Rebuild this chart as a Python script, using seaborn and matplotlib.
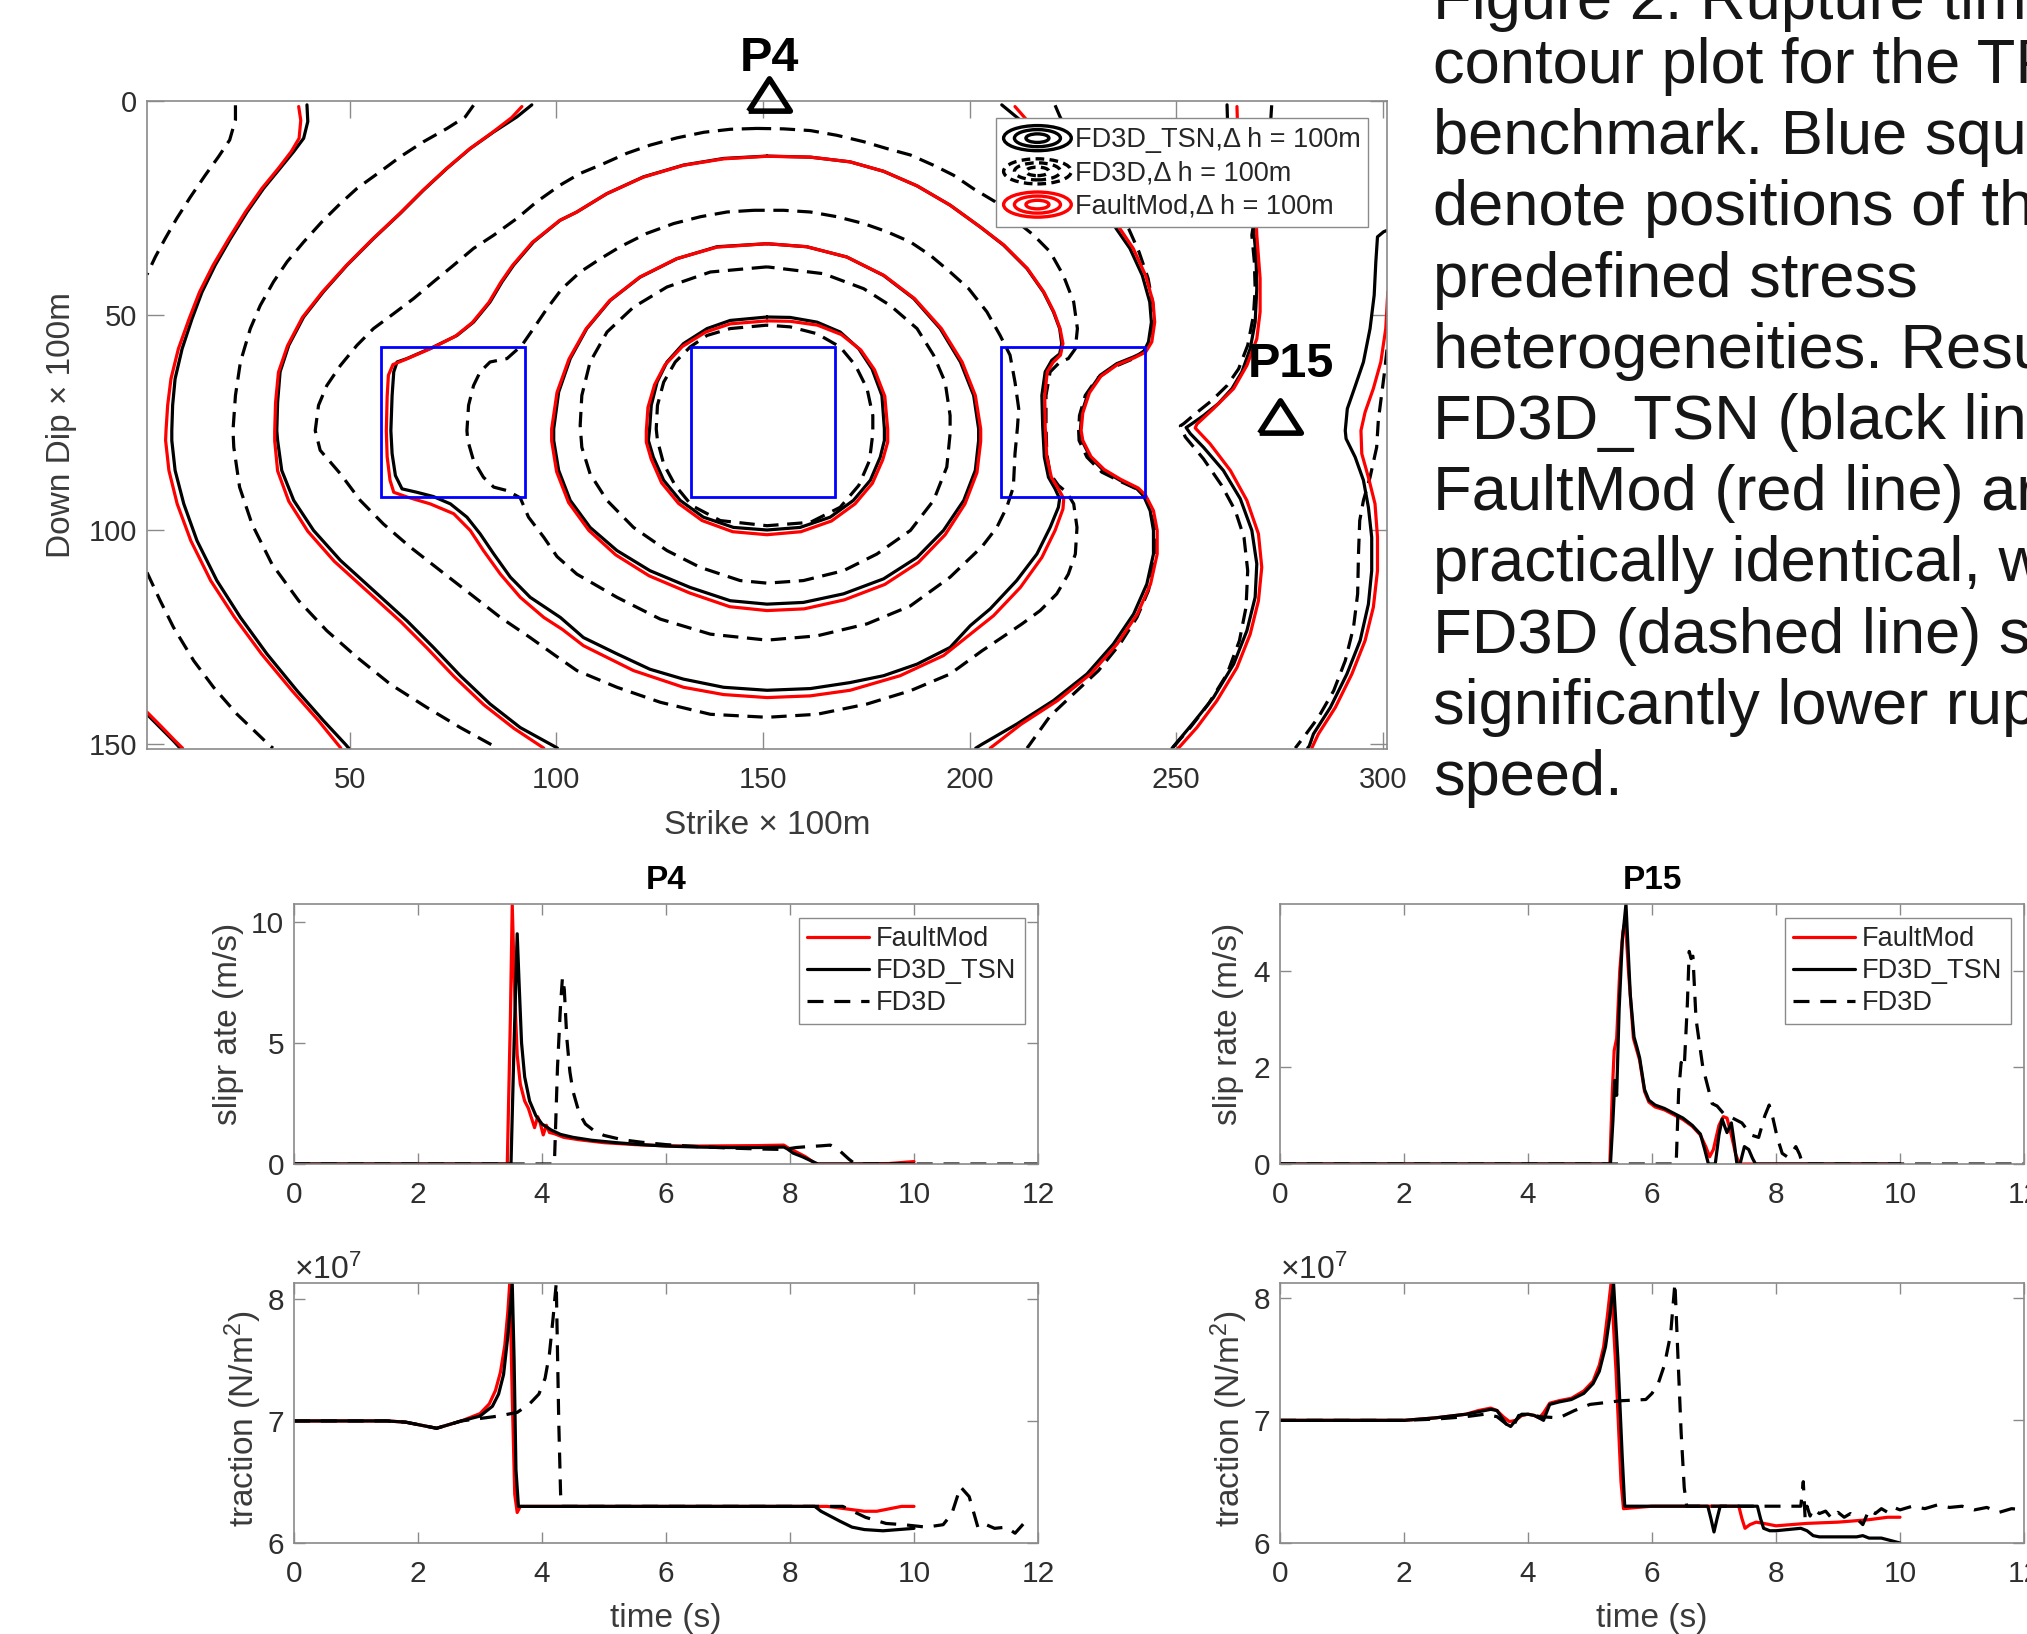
import matplotlib
matplotlib.use("Agg")
import numpy as np
import pandas as pd
import matplotlib.pyplot as plt
import seaborn as sns
from matplotlib.patches import Ellipse, Rectangle
from matplotlib.legend_handler import HandlerBase
from matplotlib.lines import Line2D
from matplotlib.ticker import ScalarFormatter

# ------------------------------------------------------------------ data
# Rupture-time contours, (strike, dip) in units of 100 m
tsn_c1 = [(151.0,50.4),(142.1,51.2),(136.5,53.1),(130.8,56.6),(126.8,60.9),(124.4,65.6),(123.0,71.0),(122.6,76.5),(122.3,79.2),(123.5,83.1),(126.0,88.5),(130.0,93.2),(135.6,97.1),(142.9,99.5),(151.0,100.1),(159.0,99.5),(166.3,97.1),(171.9,93.2),(176.0,88.5),(178.4,83.1),(179.4,79.2),(179.4,76.5),(178.8,68.7),(176.4,62.5),(173.2,57.8),(168.7,53.9),(163.1,51.6),(156.6,50.5),(151.0,50.4)]
tsn_c2 = [(151.0,33.3),(138.9,34.0),(129.2,36.8),(120.3,41.1),(113.1,46.5),(107.4,53.1),(103.4,60.1),(100.6,67.9),(99.4,76.5),(99.4,79.2),(100.6,86.2),(103.4,93.2),(108.2,99.5),(114.7,104.9),(122.7,109.6),(132.4,113.5),(142.1,116.6),(151.0,117.4),(159.8,117.0),(169.5,115.0),(179.2,111.5),(187.3,106.5),(193.7,100.2),(198.6,93.2),(201.4,86.2),(202.2,79.2),(202.2,76.5),(201.0,68.7),(197.8,60.9),(192.9,53.1),(186.5,46.1),(179.2,40.7),(170.3,36.4),(160.6,34.0),(151.0,33.3)]
tsn_c3 = [(151.0,12.85),(140.5,13.4),(130.8,14.95),(121.1,17.7),(112.3,21.6),(105.0,25.9),(101.0,27.8),(94.5,32.9),(89.7,38.3),(86.9,42.2),(84.0,46.9),(80.0,51.6),(76.0,54.7),(70.3,57.4),(63.9,60.1),(61.5,60.9),(60.7,63.2),(60.3,68.7),(60.0,76.9),(60.3,82.3),(61.1,87.4),(62.7,90.5),(66.3,91.3),(70.3,92.3),(74.4,94.0),(78.4,97.1),(81.6,101.0),(84.9,105.7),(88.9,111.1),(93.7,115.8),(101.0,120.5),(106.6,125.2),(114.7,129.0),(122.7,132.6),(130.8,134.9),(140.5,136.8),(151.0,137.5),(161.5,137.1),(171.1,135.7),(179.2,134.1),(187.3,131.4),(195.3,127.5),(200.2,122.4),(205.0,118.5),(211.4,111.9),(216.3,105.7),(219.5,99.5),(221.5,94.8),(221.8,92.8),(220.7,90.5),(219.1,87.8),(218.1,83.1),(217.7,76.0),(217.5,68.7),(218.3,63.2),(219.9,60.5),(221.8,59.0),(222.3,56.6),(221.8,53.1),(220.3,49.2),(217.9,44.6),(213.9,39.1),(208.2,33.6),(202.6,29.4),(195.3,24.3),(187.3,19.8),(179.2,16.4),(171.1,14.2),(161.5,13.1),(151.0,12.85)]
tsn_c4l = [(94.1,0.9),(90.5,3.7),(84.9,7.2),(79.2,11.1),(73.6,15.7),(67.9,20.8),(62.3,26.2),(55.8,32.1),(49.4,38.3),(43.7,44.5),(38.9,50.4),(35.3,57.0),(33.2,63.2),(32.6,70.3),(32.4,76.9),(32.6,79.2),(33.6,86.2),(36.5,93.2),(41.3,100.2),(47.8,107.2),(55.8,114.2),(63.9,121.3),(70.3,127.5),(76.8,134.1),(84.0,140.7),(91.3,146.2),(99.4,150.5),(100.3,151.0)]
tsn_c4r = [(207.8,0.9),(212.2,4.4),(217.5,9.0),(223.0,14.5),(228.5,20.0),(232.5,25.0),(235.5,29.8),(238.8,34.4),(241.8,40.7),(243.6,46.9),(244.0,51.6),(243.3,56.2),(242.1,58.6),(239.7,59.7),(235.6,61.3),(231.6,64.0),(228.8,67.9),(227.2,72.6),(226.8,76.9),(227.2,79.2),(229.2,83.1),(232.4,86.2),(236.4,88.5),(240.5,90.5),(242.1,92.1),(243.7,95.6),(244.5,100.2),(244.5,105.7),(242.9,112.7),(239.7,119.7),(234.8,126.7),(228.4,133.7),(220.3,139.9),(211.4,145.4),(203.0,150.1),(201.5,151.0)]
tsn_c5l = [(39.7,0.9),(39.9,4.8),(38.9,8.7),(36.5,11.8),(33.2,15.7),(29.2,20.4),(25.2,25.9),(21.2,32.1),(17.5,38.3),(14.3,44.6),(11.9,50.8),(9.5,57.8),(7.8,64.8),(7.2,71.0),(7.0,76.9),(7.0,79.2),(7.8,86.2),(9.9,94.0),(13.1,102.6),(17.9,111.9),(23.6,120.5),(30.0,129.0),(37.3,137.6),(43.7,144.6),(49.0,150.1),(49.8,151.0)]
tsn_c5r = [(262.3,0.9),(262.4,4.1),(264.0,10.0),(266.0,17.0),(267.8,24.0),(268.7,29.8),(269.3,36.0),(269.5,43.8),(269.1,51.6),(267.9,57.8),(265.9,63.2),(263.5,67.1),(260.2,70.6),(256.6,73.4),(253.8,75.3),(252.4,76.2),(253.4,77.6),(256.6,80.8),(261.4,86.2),(265.5,92.8),(268.3,100.2),(269.5,108.0),(269.1,115.8),(267.1,123.6),(263.9,131.4),(259.0,139.2),(254.2,145.0),(249.8,150.1),(249.0,151.0)]
tsn_c6 = [(301.0,30.2),(300.2,30.5),(298.7,31.7),(298.3,37.5),(297.9,45.3),(296.9,53.1),(295.3,60.9),(293.1,67.1),(291.4,71.8),(290.9,76.9),(291.1,78.8),(293.3,83.1),(295.3,88.5),(296.5,94.8),(297.3,101.8),(297.3,109.6),(296.5,117.4),(294.5,125.9),(291.3,133.7),(287.3,141.5),(283.2,147.7),(282.2,150.5),(281.8,151.0)]
tsn_c7 = [(1.0,143.1),(4.2,146.2),(7.4,149.3),(9.0,151.0)]

fm_c1 = [(151.0,51.3),(142.1,52.0),(136.2,53.9),(130.5,57.3),(126.3,61.6),(123.8,66.2),(122.2,71.5),(121.8,77.0),(121.8,79.6),(123.0,83.6),(125.5,89.1),(129.6,93.9),(135.3,97.9),(142.7,100.5),(151.0,101.2),(159.2,100.5),(166.6,98.0),(172.3,94.0),(176.5,89.2),(179.0,83.7),(180.2,79.6),(180.2,76.6),(179.5,68.9),(177.0,62.7),(173.7,58.1),(169.0,54.5),(163.2,52.3),(156.6,51.4),(151.0,51.3)]
fm_c2 = [(151.0,33.3),(138.9,34.1),(129.1,36.8),(120.2,41.1),(112.9,46.6),(107.2,53.2),(103.1,60.2),(100.2,68.0),(98.9,76.5),(98.9,79.3),(100.1,86.5),(103.0,93.7),(107.9,100.2),(114.4,105.9),(122.5,110.8),(132.3,114.8),(142.0,118.0),(151.0,118.9),(160.0,118.5),(169.7,116.4),(179.5,112.8),(187.6,107.7),(194.1,101.2),(198.9,94.0),(201.8,86.7),(202.7,79.4),(202.7,76.5),(201.4,68.7),(198.2,60.9),(193.2,53.1),(186.7,46.1),(179.3,40.7),(170.3,36.4),(160.6,34.0),(151.0,33.3)]
fm_c3 = [(151.0,12.9),(140.5,13.5),(130.8,15.0),(121.0,17.8),(112.1,21.7),(104.8,26.0),(100.8,27.9),(94.2,33.0),(89.4,38.4),(86.6,42.3),(83.7,47.0),(79.7,51.7),(75.6,54.9),(69.8,57.7),(63.3,60.4),(60.5,61.5),(59.4,64.0),(59.1,69.0),(58.9,77.0),(59.1,83.0),(59.8,88.5),(60.7,91.3),(63.9,92.4),(69.5,94.0),(75.2,96.3),(79.2,100.2),(82.4,104.9),(86.5,110.4),(91.3,115.8),(97.0,120.5),(101.5,123.3),(106.6,127.1),(118.7,132.9),(130.8,136.8),(140.5,138.5),(151.0,139.2),(161.5,138.8),(171.1,137.5),(183.2,134.1),(193.7,129.4),(200.2,124.4),(205.8,120.1),(212.3,113.5),(217.5,106.5),(220.7,100.2),(222.6,95.2),(222.8,92.8),(221.5,90.5),(219.8,87.8),(218.7,83.1),(218.3,76.0),(218.2,68.7),(218.8,63.2),(220.2,61.0),(222.0,59.3),(222.6,56.6),(221.9,53.1),(220.4,49.2),(218.0,44.6),(214.0,39.1),(208.3,33.6),(202.6,29.4),(195.3,24.3),(187.3,19.8),(179.2,16.4),(171.1,14.2),(161.5,13.1),(151.0,12.9)]
fm_c4l = [(91.7,1.3),(89.2,3.9),(84.6,7.3),(79.0,11.2),(73.4,15.8),(67.7,20.9),(62.1,26.3),(55.6,32.2),(49.2,38.4),(43.4,44.6),(38.6,50.5),(35.0,57.1),(32.8,63.3),(32.1,70.4),(31.9,77.0),(31.9,79.3),(32.6,86.3),(35.3,93.4),(39.9,100.4),(46.3,107.4),(54.3,114.4),(62.4,121.5),(68.8,127.7),(75.3,134.3),(82.5,140.9),(89.8,146.4),(97.0,151.0)]
fm_c4r = [(211.0,1.3),(214.0,4.6),(218.5,9.0),(224.0,14.5),(229.5,20.0),(233.5,25.0),(236.4,29.8),(239.6,34.4),(242.6,40.7),(244.4,46.9),(244.8,51.6),(244.1,56.2),(242.6,58.6),(239.9,59.9),(235.8,61.5),(231.8,64.2),(229.0,68.1),(227.4,72.8),(227.0,76.9),(227.4,79.2),(229.4,83.0),(232.6,86.0),(236.6,88.3),(240.8,90.3),(242.6,92.0),(244.5,95.6),(245.4,100.2),(245.4,105.7),(243.8,112.7),(240.6,119.7),(235.7,126.7),(229.3,133.7),(221.3,139.9),(212.5,145.4),(205.0,151.0)]
fm_c5l = [(37.7,1.3),(38.2,4.5),(37.8,8.7),(35.9,11.8),(32.8,15.7),(28.8,20.4),(24.8,25.9),(20.8,32.1),(17.0,38.3),(13.7,44.6),(11.2,50.8),(8.6,57.8),(6.8,64.8),(6.0,71.0),(5.6,76.9),(5.5,79.2),(6.3,86.2),(8.3,94.0),(11.6,102.6),(16.4,111.9),(22.2,120.5),(28.7,129.0),(36.1,137.6),(42.5,144.6),(47.9,151.0)]
fm_c5r = [(264.7,1.3),(264.8,4.4),(266.2,10.0),(268.0,17.0),(269.2,24.0),(269.5,31.3),(270.3,41.4),(270.3,49.2),(269.5,55.5),(267.1,61.7),(263.9,67.1),(259.0,71.8),(255.0,75.4),(254.6,76.3),(258.2,80.0),(263.1,86.2),(267.1,93.2),(269.9,101.0),(270.7,108.8),(269.9,116.6),(267.9,124.4),(264.7,132.2),(259.8,140.0),(255.0,146.2),(251.0,150.5),(250.5,151.0)]
fm_c6 = [(301.2,44.5),(300.7,53.1),(299.5,60.9),(297.7,67.1),(295.7,72.6),(294.7,76.9),(294.9,82.3),(296.5,87.8),(298.1,94.0),(298.7,101.8),(298.7,109.6),(297.7,118.1),(295.7,125.9),(292.5,133.7),(288.5,141.5),(284.4,147.7),(282.8,151.0)]
fm_c7 = [(1.0,142.6),(4.4,145.9),(7.8,149.3),(9.6,151.0)]

fd_c1 = [(151.0,52.3),(142.1,53.1),(136.5,54.7),(132.4,57.4),(128.8,60.9),(126.0,65.6),(124.5,71.0),(124.2,76.5),(124.5,79.2),(126.0,84.7),(128.8,89.7),(132.8,94.4),(139.7,97.9),(151.0,99.1),(161.5,98.3),(168.7,94.8),(173.2,89.7),(175.8,83.9),(176.6,77.6),(176.6,73.4),(175.2,67.1),(172.4,61.7),(168.7,57.4),(163.1,54.3),(156.6,52.7),(151.0,52.3)]
fd_c2 = [(151.0,38.7),(137.3,39.9),(126.8,43.4),(118.7,48.1),(112.3,53.9),(108.2,60.9),(106.2,68.7),(105.8,75.7),(106.2,80.8),(108.2,87.0),(112.3,93.2),(118.7,99.5),(126.8,104.9),(134.8,108.8),(144.5,111.9),(151.0,112.5),(159.8,111.9),(169.5,109.6),(177.6,105.7),(185.7,100.2),(191.3,93.2),(194.5,85.4),(195.3,77.6),(195.3,73.4),(194.1,65.6),(191.3,59.3),(187.3,53.1),(180.8,47.7),(174.4,43.8),(164.7,40.3),(151.0,38.7)]
fd_c3 = [(147.8,25.5),(141.3,25.9),(134.9,27.0),(128.4,28.6),(121.9,30.9),(115.5,34.0),(110.7,36.8),(105.8,39.9),(101.4,43.8),(97.8,48.4),(94.5,53.1),(91.7,57.0),(88.1,60.1),(84.0,60.9),(81.6,63.2),(80.0,66.4),(78.8,71.0),(78.4,76.9),(78.6,79.2),(80.0,83.9),(82.4,87.8),(84.9,90.1),(88.1,90.9),(91.3,92.6),(93.3,97.1),(97.0,101.8),(100.2,106.3),(105.0,110.4),(114.7,115.8),(125.2,120.9),(137.3,124.4),(151.0,125.8),(163.1,124.8),(175.2,122.0),(185.7,117.8),(195.3,111.1),(203.0,104.0),(206.6,99.5),(209.0,94.8),(210.6,90.1),(211.0,82.3),(211.6,76.1),(211.9,71.8),(211.0,65.6),(209.8,59.3),(207.4,54.7),(204.2,49.2),(199.8,43.8),(195.3,39.9),(190.5,36.0),(185.7,32.9),(180.0,30.5),(174.4,28.6),(167.9,27.0),(161.5,25.9),(155.0,25.5),(147.8,25.5)]
fd_c4 = [(148.6,6.4),(142.1,6.6),(135.7,7.3),(129.2,8.6),(122.7,10.3),(117.1,12.2),(111.5,14.6),(105.8,16.9),(101.0,19.6),(95.3,23.5),(90.5,27.4),(84.9,31.3),(80.0,34.4),(75.2,38.3),(70.3,42.2),(65.5,46.1),(60.7,49.6),(55.8,53.1),(51.8,57.0),(47.8,61.7),(44.5,66.4),(42.5,71.0),(41.7,76.9),(42.9,81.5),(47.8,87.0),(52.6,93.2),(58.2,98.7),(64.7,104.1),(72.0,109.6),(79.2,115.0),(86.5,120.5),(93.7,125.2),(99.8,129.4),(105.0,132.9),(114.7,136.8),(125.2,140.3),(137.3,143.1),(151.0,143.8),(163.1,143.1),(175.2,140.7),(185.7,137.6),(195.3,133.7),(203.0,128.3),(207.8,125.2),(212.7,122.0),(217.1,118.9),(221.1,115.0),(223.9,110.4),(225.6,105.7),(226.0,99.5),(225.2,94.0),(223.5,91.3),(221.5,89.7),(219.5,87.0),(218.7,82.3),(218.5,76.1),(218.5,68.7),(219.5,63.2),(221.9,60.9),(223.9,60.1),(225.6,57.8),(226.1,53.1),(225.2,46.9),(222.7,40.7),(219.5,35.2),(215.5,31.3),(210.0,27.0),(206.2,23.5),(201.0,20.5),(196.1,17.3),(191.3,15.0),(185.7,12.6),(180.0,11.1),(174.4,9.5),(167.9,8.0),(161.5,6.9),(155.0,6.5),(148.6,6.4)]
fd_c5l = [(80.0,1.0),(78.0,3.7),(73.6,6.4),(67.9,9.5),(62.3,13.0),(57.4,16.5),(51.8,20.4),(47.8,23.9),(43.3,28.2),(38.9,32.9),(34.9,37.5),(31.6,42.2),(28.4,47.7),(26.0,53.1),(23.6,60.9),(22.4,68.7),(21.8,76.9),(22.0,80.8),(23.4,90.1),(26.4,98.7),(31.2,108.0),(37.7,116.6),(44.5,123.6),(51.8,129.8),(59.9,136.1),(68.7,141.5),(76.8,146.2),(84.9,150.5),(85.8,151.0)]
fd_c5r = [(220.7,1.0),(221.9,3.7),(225.5,10.0),(230.5,17.0),(235.0,24.0),(238.5,29.8),(241.0,35.2),(243.2,41.4),(244.4,47.7),(244.3,53.1),(242.9,57.8),(239.7,60.1),(234.8,62.1),(230.8,64.8),(228.0,68.7),(226.6,73.4),(226.4,76.9),(226.5,79.2),(228.4,83.1),(232.0,86.6),(236.8,88.9),(241.3,90.9),(243.3,94.0),(244.7,99.5),(244.7,107.2),(243.3,114.2),(240.5,120.5),(236.4,126.7),(231.2,132.9),(225.1,138.4),(219.5,143.5),(214.3,150.5),(213.9,151.0)]
fd_c6a = [(22.4,1.0),(22.4,4.4),(21.0,9.1),(18.3,13.0),(15.1,17.3),(11.5,22.4),(8.2,27.4),(5.4,32.1),(3.0,36.4),(1.0,40.5)]
fd_c6b = [(1.0,110.0),(4.2,116.6),(7.4,122.8),(12.3,130.6),(17.1,136.8),(22.8,143.1),(30.8,150.5),(31.5,151.0)]
fd_c7 = [(273.1,1.0),(272.9,4.1),(272.0,12.0),(270.5,20.0),(269.0,27.0),(268.3,31.3),(268.9,37.5),(269.1,43.8),(268.7,50.0),(267.3,57.0),(265.1,62.5),(262.3,66.4),(258.6,69.9),(254.6,73.0),(251.8,75.3),(251.0,75.8),(252.2,78.4),(256.6,83.5),(261.0,89.7),(264.3,95.6),(266.4,101.8),(267.3,109.6),(266.9,118.1),(265.3,125.9),(262.3,133.7),(257.8,140.7),(253.4,146.2),(249.5,150.5),(249.0,151.0)]
fd_c8 = [(301.0,58.0),(300.3,64.0),(299.5,70.0),(298.9,74.5),(298.5,80.8),(296.9,87.8),(295.3,93.2),(294.4,97.9),(294.1,105.7),(293.9,115.0),(292.9,122.8),(290.9,130.6),(288.1,137.6),(284.4,143.8),(280.8,148.5),(279.2,150.5),(278.8,151.0)]

tsn_curves = [tsn_c1, tsn_c2, tsn_c3, tsn_c4l, tsn_c4r, tsn_c5l, tsn_c5r, tsn_c6, tsn_c7]
fm_curves = [fm_c1, fm_c2, fm_c3, fm_c4l, fm_c4r, fm_c5l, fm_c5r, fm_c6, fm_c7]
fd_curves = [fd_c1, fd_c2, fd_c3, fd_c4, fd_c5l, fd_c5r, fd_c6a, fd_c6b, fd_c7, fd_c8]

# stress heterogeneities (lower-left corner strike, dip) and side length
square_corners = [(57.5, 57.5), (132.5, 57.5), (207.5, 57.5)]
square_side = 35.0
# receiver stations (strike, dip) and their label positions
station_names = ["P4", "P15"]
station_xy = [(151.5, -1.3), (275.2, 73.7)]
station_label_xy = [(151.5, -10.0), (277.7, 61.5)]

# ---- time series at P4 ------------------------------------------------
p4_slip_t_fm = [0, 3.44, 3.49, 3.52, 3.56, 3.60, 3.65, 3.72, 3.78, 3.83, 3.88, 3.93, 3.97, 4.02, 4.07, 4.12, 4.20, 4.35, 4.60, 5.00, 5.50, 6.00, 6.50, 7.00, 7.50, 7.90, 8.00, 8.10, 8.25, 8.42, 9.00, 9.60, 10.0]
p4_slip_v_fm = [0, 0, 6.0, 10.7, 7.0, 4.5, 3.3, 2.6, 2.3, 1.9, 1.5, 1.95, 1.7, 1.2, 1.6, 1.3, 1.25, 1.1, 1.0, 0.88, 0.8, 0.75, 0.74, 0.75, 0.76, 0.78, 0.62, 0.5, 0.3, 0.0, 0.0, 0.02, 0.1]
p4_slip_t_tsn = [0, 3.50, 3.55, 3.60, 3.63, 3.67, 3.72, 3.80, 3.90, 4.00, 4.15, 4.30, 4.50, 4.80, 5.20, 5.60, 6.00, 6.50, 7.00, 7.50, 7.90, 7.96, 8.05, 8.20, 8.35, 8.45, 10.0]
p4_slip_v_tsn = [0, 0, 5.0, 9.5, 7.5, 5.0, 3.6, 2.6, 2.0, 1.65, 1.4, 1.22, 1.1, 0.98, 0.88, 0.8, 0.74, 0.7, 0.68, 0.68, 0.7, 0.62, 0.45, 0.3, 0.12, 0.0, 0.0]
p4_slip_t_fd = [0, 4.20, 4.25, 4.30, 4.33, 4.36, 4.40, 4.45, 4.50, 4.60, 4.70, 4.85, 5.00, 5.30, 5.60, 6.00, 6.50, 7.00, 7.50, 7.90, 8.10, 8.30, 8.50, 8.65, 8.80, 8.95, 9.05, 12.0]
p4_slip_v_fd = [0, 0, 4.0, 6.6, 7.7, 7.2, 5.2, 3.8, 3.0, 2.1, 1.65, 1.35, 1.18, 1.0, 0.9, 0.8, 0.72, 0.66, 0.62, 0.6, 0.68, 0.72, 0.75, 0.78, 0.55, 0.2, 0.0, 0.0]

p4_trac_t_fm = [0, 1.5, 1.8, 2.1, 2.3, 2.5, 2.7, 3.0, 3.15, 3.25, 3.33, 3.40, 3.45, 3.48, 3.52, 3.56, 3.60, 3.65, 4.0, 6.0, 8.0, 8.6, 8.9, 9.2, 9.4, 9.6, 9.8, 10.0]
p4_trac_v_fm = [7.0, 7.0, 6.99, 6.96, 6.94, 6.97, 7.0, 7.06, 7.14, 7.25, 7.4, 7.62, 7.9, 8.13, 7.2, 6.4, 6.25, 6.3, 6.3, 6.3, 6.3, 6.3, 6.28, 6.26, 6.26, 6.28, 6.3, 6.3]
p4_trac_t_tsn = [0, 1.5, 1.8, 2.1, 2.3, 2.5, 2.7, 3.0, 3.2, 3.3, 3.38, 3.45, 3.52, 3.55, 3.58, 3.62, 4.0, 6.0, 8.0, 8.4, 8.5, 8.65, 8.8, 9.0, 9.2, 9.5, 9.75, 10.0]
p4_trac_v_tsn = [7.0, 7.0, 6.99, 6.96, 6.94, 6.97, 7.0, 7.04, 7.12, 7.22, 7.38, 7.7, 8.13, 7.5, 6.6, 6.3, 6.3, 6.3, 6.3, 6.3, 6.26, 6.22, 6.18, 6.13, 6.11, 6.1, 6.11, 6.12]
p4_trac_t_fd = [0, 1.5, 1.8, 2.1, 2.3, 2.5, 2.7, 3.0, 3.3, 3.6, 3.8, 3.95, 4.05, 4.12, 4.18, 4.23, 4.27, 4.30, 4.32, 4.35, 6.0, 8.0, 8.5, 8.85, 9.22, 9.55, 9.83, 10.2, 10.47, 10.61, 10.75, 10.89, 11.03, 11.12, 11.3, 11.49, 11.63, 11.77, 11.9]
p4_trac_v_fd = [7.0, 7.0, 6.99, 6.96, 6.94, 6.97, 7.0, 7.02, 7.04, 7.07, 7.14, 7.22, 7.35, 7.55, 7.85, 8.13, 7.0, 6.4, 6.3, 6.3, 6.3, 6.3, 6.3, 6.3, 6.21, 6.16, 6.15, 6.13, 6.15, 6.24, 6.46, 6.38, 6.13, 6.16, 6.12, 6.13, 6.08, 6.16, 6.2]

# ---- time series at P15 -----------------------------------------------
p15_slip_t_fm = [0, 5.32, 5.36, 5.39, 5.43, 5.48, 5.53, 5.57, 5.62, 5.70, 5.80, 5.88, 5.95, 6.05, 6.20, 6.35, 6.50, 6.65, 6.78, 6.87, 6.93, 6.99, 7.08, 7.15, 7.21, 7.28, 7.35, 7.41, 10.0]
p15_slip_v_fm = [0, 0, 1.5, 2.35, 2.6, 4.0, 4.8, 5.05, 4.0, 2.6, 2.15, 1.5, 1.28, 1.18, 1.12, 1.02, 0.92, 0.78, 0.6, 0.35, 0.15, 0.3, 0.8, 0.98, 0.95, 0.6, 0.2, 0.0, 0.0]
p15_slip_t_tsn = [0, 5.33, 5.37, 5.40, 5.43, 5.47, 5.52, 5.58, 5.62, 5.65, 5.71, 5.76, 5.80, 5.88, 5.95, 6.05, 6.20, 6.35, 6.50, 6.65, 6.78, 6.85, 6.91, 7.02, 7.08, 7.13, 7.18, 7.21, 7.28, 7.33, 7.37, 7.42, 7.49, 7.56, 7.62, 7.67, 10.0]
p15_slip_v_tsn = [0, 0, 0.9, 1.73, 1.42, 3.2, 4.6, 5.38, 4.3, 3.5, 2.63, 2.4, 2.2, 1.54, 1.32, 1.22, 1.15, 1.05, 0.95, 0.8, 0.62, 0.3, 0.0, 0.0, 0.6, 0.93, 0.75, 0.65, 0.85, 0.4, 0.0, 0.0, 0.36, 0.3, 0.12, 0.0, 0.0]
p15_slip_t_fd = [0, 6.39, 6.43, 6.47, 6.52, 6.57, 6.60, 6.63, 6.66, 6.71, 6.77, 6.82, 6.90, 6.97, 7.05, 7.15, 7.30, 7.45, 7.60, 7.72, 7.82, 7.89, 7.95, 8.02, 8.10, 8.18, 8.24, 8.32, 8.38, 8.43, 12.0]
p15_slip_v_fd = [0, 0, 1.5, 2.1, 2.0, 3.3, 4.4, 4.25, 4.3, 3.0, 2.45, 2.0, 1.6, 1.25, 1.2, 1.05, 0.95, 0.85, 0.6, 0.55, 1.0, 1.22, 0.95, 0.55, 0.22, 0.15, 0.2, 0.36, 0.2, 0.0, 0.0]

p15_trac_t_fm = [0, 2.0, 2.5, 3.0, 3.2, 3.4, 3.5, 3.6, 3.7, 3.8, 3.9, 4.0, 4.1, 4.18, 4.25, 4.35, 4.5, 4.7, 4.9, 5.05, 5.15, 5.22, 5.28, 5.34, 5.42, 5.50, 5.54, 6.0, 7.0, 7.40, 7.45, 7.50, 7.58, 7.68, 7.8, 8.0, 8.5, 9.0, 9.5, 9.8, 10.0]
p15_trac_v_fm = [7.0, 7.0, 7.02, 7.05, 7.08, 7.1, 7.08, 7.03, 6.99, 7.0, 7.04, 7.05, 7.04, 7.02, 7.06, 7.14, 7.16, 7.18, 7.24, 7.32, 7.45, 7.6, 7.85, 8.12, 7.4, 6.5, 6.28, 6.3, 6.3, 6.3, 6.2, 6.12, 6.15, 6.17, 6.16, 6.14, 6.16, 6.17, 6.19, 6.21, 6.21]
p15_trac_t_tsn = [0, 2.0, 2.5, 3.0, 3.2, 3.4, 3.5, 3.58, 3.65, 3.72, 3.8, 3.9, 4.0, 4.1, 4.18, 4.25, 4.35, 4.5, 4.7, 4.9, 5.05, 5.15, 5.25, 5.32, 5.38, 5.45, 5.52, 5.56, 6.0, 6.9, 6.95, 7.0, 7.05, 7.1, 7.7, 7.75, 7.8, 7.9, 8.0, 8.2, 8.4, 8.5, 8.6, 8.7, 9.0, 9.3, 9.4, 9.5, 9.7, 10.0]
p15_trac_v_tsn = [7.0, 7.0, 7.02, 7.05, 7.07, 7.09, 7.08, 7.02, 6.97, 6.95, 7.0, 7.05, 7.05, 7.04, 7.02, 7.0, 7.13, 7.15, 7.17, 7.22, 7.3, 7.4, 7.6, 7.85, 8.12, 7.5, 6.7, 6.3, 6.3, 6.3, 6.2, 6.09, 6.2, 6.3, 6.3, 6.2, 6.12, 6.1, 6.1, 6.11, 6.12, 6.1, 6.06, 6.05, 6.05, 6.05, 6.06, 6.04, 6.04, 6.0]
p15_trac_t_fd = [0, 2.0, 2.5, 3.0, 3.3, 3.5, 3.65, 3.75, 3.85, 4.0, 4.2, 4.5, 4.75, 5.0, 5.5, 5.9, 6.0, 6.1, 6.2, 6.3, 6.37, 6.42, 6.47, 6.52, 6.56, 8.4, 8.44, 8.47, 8.5, 8.55, 8.6, 8.7, 8.8, 8.9, 9.0, 9.1, 9.2, 9.3, 9.4, 9.5, 9.6, 9.7, 9.8, 9.9, 10.0, 10.2, 10.4, 10.6, 10.8, 11.0, 11.2, 11.4, 11.6, 11.8, 12.0]
p15_trac_v_fd = [7.0, 7.0, 7.01, 7.03, 7.05, 7.03, 6.97, 6.94, 7.04, 7.05, 7.03, 7.02, 7.08, 7.13, 7.16, 7.17, 7.22, 7.3, 7.45, 7.7, 8.12, 7.5, 6.9, 6.45, 6.3, 6.3, 6.5, 6.2, 6.3, 6.22, 6.28, 6.24, 6.26, 6.2, 6.25, 6.21, 6.24, 6.2, 6.15, 6.27, 6.24, 6.28, 6.25, 6.29, 6.27, 6.3, 6.28, 6.31, 6.29, 6.3, 6.27, 6.29, 6.25, 6.28, 6.27]
traction_unit = 1e7

caption_lines = ["Figure 2. Rupture time", "contour plot for the TPV5", "benchmark. Blue squares",
                 "denote positions of the", "predefined stress", "heterogeneities. Results of",
                 "FD3D_TSN (black line) and", "FaultMod (red line) are", "practically identical, while",
                 "FD3D (dashed line) shows", "significantly lower rupture", "speed."]

# ------------------------------------------------------------------ style
sns.set_style("white")
plt.rcParams["font.family"] = ["Liberation Sans", "DejaVu Sans"]
plt.rcParams["mathtext.fontset"] = "custom"
plt.rcParams["mathtext.rm"] = "Liberation Sans"
plt.rcParams["mathtext.it"] = "Liberation Sans:italic"
plt.rcParams["mathtext.bf"] = "Liberation Sans:bold"

W, H = 2027, 1634
fig = plt.figure(figsize=(W / 100, H / 100), dpi=100)
fig.patch.set_facecolor("white")

SPINE = "#8a8a8a"
TICKLAB = "#2e2e2e"
LABC = "#3a3a3a"
RED = "#ff0000"
LW = 2.3
FD_DASH = (0, (4.8, 2.7))
TS_DASH = (0, (5.0, 3.4))


def rect(l, t, r, b):
    return [l / W, 1 - b / H, (r - l) / W, (b - t) / H]


def style(ax, ticklen, fs, xpad):
    for s in ax.spines.values():
        s.set_visible(True)
        s.set_color(SPINE)
        s.set_linewidth(1.2)
    ax.tick_params(direction="in", length=ticklen, width=1.0, color=SPINE,
                   labelcolor=TICKLAB, labelsize=fs, top=True, right=True,
                   bottom=True, left=True)
    ax.tick_params(axis="x", pad=xpad)
    ax.tick_params(axis="y", pad=7)
    ax.set_facecolor("white")


def curves_df(curves, model):
    rows = []
    for cid, c in enumerate(curves):
        for k, (sx, dy) in enumerate(c):
            rows.append((f"{model}_{cid}", k, sx, dy))
    return pd.DataFrame(rows, columns=["cid", "k", "strike", "dip"])


# ------------------------------------------------------------------ contour panel
ax_c = fig.add_axes(rect(147, 101, 1387, 749))
style(ax_c, 12, 21, 12.5)

for curves, model, col, ls in [(tsn_curves, "FD3D_TSN", "black", "-"),
                               (fd_curves, "FD3D", "black", FD_DASH),
                               (fm_curves, "FaultMod", RED, "-")]:
    d = curves_df(curves, model)
    sns.lineplot(data=d, x="strike", y="dip", units="cid", estimator=None, sort=False,
                 color=col, linewidth=LW, linestyle=ls, ax=ax_c, legend=False)

for (sx, dy) in square_corners:
    ax_c.add_patch(Rectangle((sx, dy), square_side, square_side, fill=False,
                             edgecolor="#0000ff", linewidth=2.0, zorder=5))

ax_c.set_xlim(1, 301)
ax_c.set_ylim(151.2, 0)
ax_c.set_xticks([50, 100, 150, 200, 250, 300])
ax_c.set_yticks([0, 50, 100, 150])
ax_c.set_xlabel("Strike \u00d7 100m", fontsize=24, color=LABC)
ax_c.set_ylabel("Down Dip \u00d7 100m", fontsize=24, color=LABC)
ax_c.xaxis.label.set_va("center")
ax_c.yaxis.label.set_va("center")
ax_c.xaxis.set_label_coords(0.5, 1 - (826 - 101) / 648)
ax_c.yaxis.set_label_coords((62 - 147) / 1240, 0.5)

tri = [(-1, -0.75), (1, -0.75), (0, 0.8), (-1, -0.75)]
for name, (sx, dy), (lx, ly) in zip(station_names, station_xy, station_label_xy):
    ax_c.plot([sx], [dy], marker=tri, markersize=30, markerfacecolor="none",
              markeredgecolor="black", markeredgewidth=4.0, linestyle="none",
              clip_on=False, zorder=6)
    ax_c.text(lx, ly, name, ha="center", va="center", fontsize=35,
              fontweight="bold", color="black", clip_on=False, zorder=6)


class ConcentricHandler(HandlerBase):
    def __init__(self, color, ls):
        super().__init__()
        self.color = color
        self.ls = ls

    def create_artists(self, legend, orig_handle, xdescent, ydescent, width, height,
                       fontsize, trans):
        cx = -xdescent + width / 2
        cy = -ydescent + height / 2
        arts = []
        for f in (1.0, 0.68, 0.34):
            e = Ellipse((cx, cy), width * f, height * f, fill=False, edgecolor=self.color,
                        linestyle=self.ls, linewidth=2.4, transform=trans)
            arts.append(e)
        return arts


h_tsn = Line2D([], [], color="black")
h_fd = Line2D([], [], color="black", linestyle="--")
h_fm = Line2D([], [], color=RED)
leg_c = ax_c.legend([h_tsn, h_fd, h_fm],
                    ["FD3D_TSN,\u0394 h = 100m", "FD3D,\u0394 h = 100m", "FaultMod,\u0394 h = 100m"],
                    handler_map={h_tsn: ConcentricHandler("black", "-"),
                                 h_fd: ConcentricHandler("black", (0, (2.6, 1.6))),
                                 h_fm: ConcentricHandler(RED, "-")},
                    loc="upper left", bbox_to_anchor=((996 - 147) / 1240, 1 - (118 - 101) / 648),
                    borderaxespad=0, fontsize=19.5, handlelength=2.5, handleheight=1.05,
                    handletextpad=0.12, labelspacing=0.2, borderpad=0.28,
                    frameon=True, fancybox=False, framealpha=1, edgecolor=SPINE)
leg_c.get_frame().set_linewidth(1.0)
leg_c.set_zorder(10)

# ------------------------------------------------------------------ time-series panels
panels = [
    ("P4", 294, "slip", "slipr ate (m/s)", (0, 10.73), [0, 5, 10],
     [(p4_slip_t_fm, p4_slip_v_fm), (p4_slip_t_tsn, p4_slip_v_tsn), (p4_slip_t_fd, p4_slip_v_fd)], (229 - 294) / 744),
    ("P4", 294, "trac", "traction (N/m$^2$)", (6.0, 8.13), [6, 7, 8],
     [(p4_trac_t_fm, p4_trac_v_fm), (p4_trac_t_tsn, p4_trac_v_tsn), (p4_trac_t_fd, p4_trac_v_fd)], (243 - 294) / 744),
    ("P15", 1280, "slip", "slip rate (m/s)", (0, 5.38), [0, 2, 4],
     [(p15_slip_t_fm, p15_slip_v_fm), (p15_slip_t_tsn, p15_slip_v_tsn), (p15_slip_t_fd, p15_slip_v_fd)], (1229 - 1280) / 744),
    ("P15", 1280, "trac", "traction (N/m$^2$)", (6.0, 8.12), [6, 7, 8],
     [(p15_trac_t_fm, p15_trac_v_fm), (p15_trac_t_tsn, p15_trac_v_tsn), (p15_trac_t_fd, p15_trac_v_fd)], (1229 - 1280) / 744),
]
models = ["FaultMod", "FD3D_TSN", "FD3D"]
mcolors = [RED, "black", "black"]
mstyles = ["-", "-", TS_DASH]

for name, left, kind, ylab, ylim, yt, series, ylx in panels:
    top, bot = (904, 1164) if kind == "slip" else (1283, 1543)
    ax = fig.add_axes(rect(left, top, left + 744, bot))
    style(ax, 8, 21.5, 12.5)
    scale = 1.0 if kind == "slip" else traction_unit
    for (tt, vv), m, col, ls in zip(series, models, mcolors, mstyles):
        d = pd.DataFrame({"time": tt, "value": np.asarray(vv) * scale})
        sns.lineplot(data=d, x="time", y="value", estimator=None, sort=False, color=col,
                     linewidth=LW, linestyle=ls, ax=ax, legend=False)
    ax.set_xlim(0, 12)
    ax.set_xticks(range(0, 13, 2))
    ax.set_ylim(ylim[0] * scale, ylim[1] * scale)
    ax.set_yticks([v * scale for v in yt])
    ax.set_ylabel(ylab, fontsize=24, color=LABC)
    ax.yaxis.label.set_va("center")
    if kind == "slip":
        ax.yaxis.set_label_coords(ylx, 0.5 + 10 / 260)
        ax.set_xlabel("")
        ax.set_title(name, fontsize=24, fontweight="bold", color="black",
                     y=1 + 15 / 260, va="center")
        hl = [Line2D([], [], color=c, lw=LW, linestyle=s) for c, s in zip(mcolors, mstyles)]
        lg = ax.legend(hl, models, loc="upper left",
                       bbox_to_anchor=((799 - 294) / 744, 1 - (918 - 904) / 260),
                       borderaxespad=0, fontsize=19.5, handlelength=2.3, handletextpad=0.25,
                       labelspacing=0.22, borderpad=0.3, frameon=True, fancybox=False,
                       framealpha=1, edgecolor=SPINE)
        lg.get_frame().set_linewidth(1.0)
    else:
        ax.yaxis.set_label_coords(ylx, 0.5 - 6 / 260)
        ax.set_xlabel("time (s)", fontsize=24, color=LABC)
        ax.xaxis.label.set_va("center")
        ax.xaxis.set_label_coords(0.5, 1 - (1618 - 1283) / 260)
        fmt = ScalarFormatter(useMathText=True)
        fmt.set_useOffset(False)
        fmt.set_scientific(True)
        fmt.set_powerlimits((0, 0))
        ax.yaxis.set_major_formatter(fmt)
        ax.yaxis.get_offset_text().set_fontsize(23)
        ax.yaxis.get_offset_text().set_color(TICKLAB)

# ------------------------------------------------------------------ caption (cut by the page edge)
for i, line in enumerate(caption_lines):
    base = 19 if i == 0 else 83 + 71.2 * (i - 1)
    fig.text(1433 / W, 1 - base / H, line, ha="left", va="baseline", fontsize=45.5,
             color="#161616")

fig.savefig("out.png", dpi=100)
